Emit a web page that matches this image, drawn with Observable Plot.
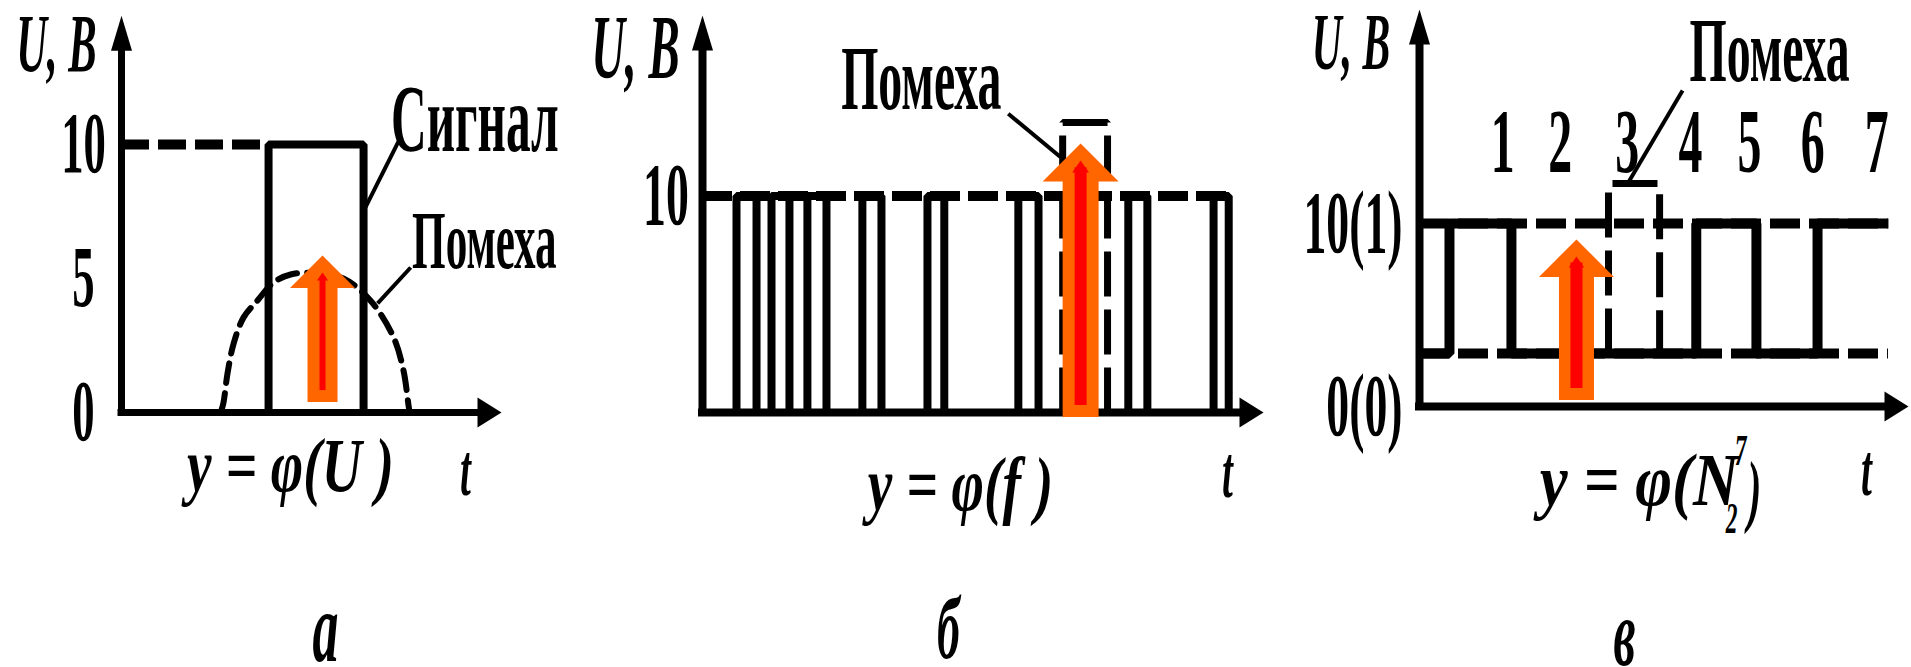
<!DOCTYPE html>
<html>
<head>
<meta charset="utf-8">
<script src="https://cdn.jsdelivr.net/npm/d3@7"></script>
<script src="https://cdn.jsdelivr.net/npm/@observablehq/plot@0.6"></script>
<style>
  html, body { margin: 0; padding: 0; background: #fff; }
  #figure { position: relative; width: 1911px; height: 667px; overflow: hidden; background: #fff; }
  .panel { position: absolute; top: 0; }
</style>
</head>
<body>
<div id="figure"></div>
<script>
// ---------- Panel а: amplitude signal y = φ(U) ----------
const ticksA = [0, 5, 10];
const pulseA = [38.7, 63.7];          // signal on / off time
const levelA = 10;                    // signal amplitude, V
const noiseTA = [26.1, 26.8, 27.9, 29.5, 32.1, 35.8, 40.0, 44.5, 51.0, 58.4, 65.5, 71.6, 74.2, 75.5, 75.8];
const noiseUA = [0, 0.34, 1.46, 2.57, 3.54, 4.18, 4.85, 5.15, 5.2, 5.0, 4.18, 2.8, 1.57, 0.3, 0];
const leadersA = [
  {t1: 73.4, u1: 10.26, t2: 64.2, u2: 7.65},
  {t1: 76.1, u1: 5.41, t2: 67.4, u2: 4.07}
];
const labelsA = [
  {text: "Сигнал", t: 93.0, u: 10.91},
  {text: "Помеха", t: 95.5, u: 6.40}
];
const markerA = {t: 52.9, base: 0.37, tip: 5.86};

// ---------- Panel б: frequency-coded pulses y = φ(f) ----------
const ticksB = [10];
const levelB = 10;
const pulsesB = [[6.06, 9.63], [12.3, 15.5], [18.7, 22.1], [28.5, 31.9], [40.1, 43.1], [56.3, 59.9], [75.9, 79.3], [91.1, 93.8]];
const noisePulseB = [64.2, 72.2];
const noiseLevelB = 13.4;
const leaderB = [{t1: 54.5, u1: 13.8, t2: 63.8, u2: 11.8}];
const labelB = [{text: "Помеха", t: 39.0, u: 15.4}];
const markerB = {t: 67.4, base: -0.23, tip: 12.42};

// ---------- Panel в: binary code y = φ(N₂⁷) ----------
const ticksV = [0, 10];
const tickLabelsV = ["0(0)", "10(1)"];
const levelsV = [2.9, 10];            // logical 0 and logical 1
const codeEdgesV = [0, 6.13, 18.8, 56.6, 68.9, 81.4, 95.9];
const codeBitsV = [0, 1, 0, 1, 0, 1];
const noiseBoxV = [38.65, 49.1];
const noiseTopV = 12.19;
const slotNamesV = ["1", "2", "3", "4", "5", "6", "7"];
const slotTV = [17.0, 28.8, 42.5, 55.4, 67.5, 80.4, 93.5];
const slotRowV = 14.4;
const leaderV = [{t1: 53.8, u1: 17.27, t2: 42.7, u2: 12.24}];
const labelV = [{text: "Помеха", t: 71.6, u: 19.4}];
const markerV = {t: 32.1, base: 0.33, tip: 9.13};

// ---------- helpers ----------
const FONT = "Liberation Serif";
const ORANGE = "#ff6600", RED = "#ff0000";
const STRETCH = {formula: 0.72, formulaN: 0.84};

// filled triangular heads, tip at the anchor point
function headUp(w) {
  return {draw(ctx, size) {
    const r = Math.sqrt(size / Math.PI);
    ctx.moveTo(0, 0); ctx.lineTo(w * r, r); ctx.lineTo(-w * r, r); ctx.closePath();
  }};
}
function headRight(w) {
  return {draw(ctx, size) {
    const r = Math.sqrt(size / Math.PI);
    ctx.moveTo(0, 0); ctx.lineTo(-r, w * r); ctx.lineTo(-r, -w * r); ctx.closePath();
  }};
}

function pulsePoints([s, e], low, high, k = 0) {
  return [{t: s, u: low, k}, {t: s, u: high, k}, {t: e, u: high, k}, {t: e, u: low, k}];
}

function axisMarks(xEnd, yEnd, sw) {
  return [
    Plot.ruleX([0], {y1: yEnd, y2: 0, strokeWidth: sw, insetTop: 20, insetBottom: -sw / 2}),
    Plot.ruleY([0], {x1: 0, x2: xEnd, strokeWidth: sw, insetRight: 12, insetLeft: -sw / 2}),
    Plot.dot([0], {x: 0, y: yEnd, r: 35, symbol: headUp(0.3), fill: "black"}),
    Plot.dot([0], {x: xEnd, y: 0, r: 24, symbol: headRight(0.62), fill: "black"})
  ];
}

function markerMarks(m, {shaft, redShaft, headR, redR}) {
  return [
    Plot.ruleX([m], {x: "t", y1: "tip", y2: "base", stroke: ORANGE, strokeWidth: shaft, insetTop: headR * 0.5}),
    Plot.dot([m], {x: "t", y: "tip", r: headR, symbol: headUp(1), fill: ORANGE}),
    Plot.ruleX([m], {x: "t", y1: "tip", y2: "base", stroke: RED, strokeWidth: redShaft, insetBottom: 12, insetTop: 17 + redR * 0.6}),
    Plot.dot([m], {x: "t", y: "tip", dy: 17, r: redR, symbol: headUp(0.7), fill: RED})
  ];
}

const bold = {fontWeight: "bold", fill: "black"};
const italic = {fontWeight: "bold", fontStyle: "italic", fill: "black"};
const centered = {textAnchor: "middle", lineAnchor: "middle"};

function base(opts) {
  return {
    height: 667,
    style: {fontFamily: FONT, background: "transparent", overflow: "visible"},
    ...opts
  };
}

// narrow the serif lettering around each text's anchor point
function condense(svg, k0) {
  for (const el of svg.querySelectorAll("text")) {
    const g = el.closest("[aria-description]");
    const k = (g && STRETCH[g.getAttribute("aria-description")]) || k0;
    let t = el.getAttribute("transform") || "";
    const x = el.getAttribute("x");
    if (x != null && isFinite(+x) && +x !== 0) {
      t += ` translate(${+x},0)`;
      el.setAttribute("x", 0);
    }
    el.setAttribute("transform", `${t} scale(${k},1)`);
  }
}

// ---------- panel а ----------
const noiseA = noiseTA.map((t, i) => ({t, u: noiseUA[i]}));
const plotA = Plot.plot(base({
  width: 580, marginLeft: 121, marginRight: 79, marginTop: 10, marginBottom: 255,
  x: {domain: [0, 100], axis: null, label: null},
  y: {domain: [0, 15], axis: null, label: null},
  marks: [
    Plot.ruleY([levelA], {x1: 0, x2: pulseA[0], strokeWidth: 10, strokeDasharray: "28,9"}),
    Plot.line(noiseA, {x: "t", y: "u", curve: "catmull-rom", strokeWidth: 6, strokeDasharray: "20,10"}),
    Plot.line(pulsePoints(pulseA, 0, levelA), {x: "t", y: "u", strokeWidth: 8, strokeLinejoin: "miter", strokeLinecap: "butt"}),
    ...axisMarks(100, 14.8, 7),
    Plot.axisY(ticksA, {anchor: "left", tickSize: 0, tickPadding: 38, textAnchor: "middle", fontSize: 86, fontWeight: "bold", label: null}),
    Plot.link(leadersA, {x1: "t1", y1: "u1", x2: "t2", y2: "u2", strokeWidth: 4}),
    Plot.text(labelsA.slice(0, 1), {x: "t", y: "u", text: "text", fontSize: 95, ...bold}),
    Plot.text(labelsA.slice(1), {x: "t", y: "u", text: "text", fontSize: 83, ...bold}),
    Plot.text(["U, В"], {frameAnchor: "top-left", dx: -65, dy: 34.5, fontSize: 82, ...centered, ...italic}),
    Plot.text(["t"], {frameAnchor: "bottom-right", dx: -36, dy: 58, fontSize: 75, ...centered, ...italic}),
    Plot.text(["y = φ(U )"], {frameAnchor: "bottom", dx: -21, dy: 54, fontSize: 77, ...centered, ...italic, ariaDescription: "formula"}),
    Plot.text(["а"], {frameAnchor: "bottom", dx: 14, dy: 216, fontSize: 100, ...centered, ...italic}),
    ...markerMarks(markerA, {shaft: 30, redShaft: 6, headR: 32.5, redR: 8})
  ]
}));

// ---------- panel б ----------
const pulseLinesB = pulsesB.flatMap((p, k) => pulsePoints(p, 0, levelB, k));
const plotB = Plot.plot(base({
  width: 700, marginLeft: 122, marginRight: 17, marginTop: 11.5, marginBottom: 255,
  x: {domain: [0, 100], axis: null, label: null},
  y: {domain: [0, 18.5], axis: null, label: null},
  marks: [
    Plot.ruleY([levelB], {x1: 0, x2: pulsesB[pulsesB.length - 1][1], strokeWidth: 10, strokeDasharray: "30,8"}),
    Plot.line(pulseLinesB, {x: "t", y: "u", z: "k", strokeWidth: 8, strokeLinejoin: "miter", strokeLinecap: "butt"}),
    Plot.line(pulsePoints(noisePulseB, 0, noiseLevelB), {x: "t", y: "u", strokeWidth: 7, strokeDasharray: "45,13", strokeLinejoin: "miter", strokeLinecap: "butt"}),
    ...axisMarks(100, 18.34, 8),
    Plot.axisY(ticksB, {anchor: "left", tickSize: 0, tickPadding: 36.5, textAnchor: "middle", fontSize: 88, fontWeight: "bold", label: null}),
    Plot.link(leaderB, {x1: "t1", y1: "u1", x2: "t2", y2: "u2", strokeWidth: 4}),
    Plot.text(labelB, {x: "t", y: "u", text: "text", fontSize: 92, ...bold}),
    Plot.text(["U, В"], {frameAnchor: "top-left", dx: -67, dy: 37.5, fontSize: 90, ...centered, ...italic}),
    Plot.text(["t"], {frameAnchor: "bottom-right", dx: -36, dy: 60, fontSize: 75, ...centered, ...italic}),
    Plot.text(["y = φ(f )"], {frameAnchor: "bottom", dx: -22.5, dy: 73, fontSize: 77, ...centered, ...italic, ariaDescription: "formula"}),
    Plot.text(["б"], {frameAnchor: "bottom", dx: -34.5, dy: 217, fontSize: 88, ...centered, ...italic}),
    ...markerMarks(markerB, {shaft: 36, redShaft: 12, headR: 38, redR: 12})
  ]
}));

// ---------- panel в ----------
const codeLineV = codeBitsV.flatMap((b, i) => [
  {t: codeEdgesV[i], u: levelsV[b]},
  {t: codeEdgesV[i + 1], u: levelsV[b]}
]);
const slotsV = slotNamesV.map((name, i) => ({name, t: slotTV[i], u: slotRowV}));
const noiseLineV = pulsePoints(noiseBoxV, levelsV[0], noiseTopV);
const plotV = Plot.plot(base({
  width: 631, marginLeft: 139, marginRight: 3, marginTop: 3.4, marginBottom: 261,
  x: {domain: [0, 100], axis: null, label: null},
  y: {domain: [0, 22], axis: null, label: null},
  marks: [
    Plot.ruleY(levelsV, {x1: 0, x2: codeEdgesV[codeEdgesV.length - 1], strokeWidth: 10, strokeDasharray: "30,9"}),
    Plot.line(codeLineV, {x: "t", y: "u", strokeWidth: 10, strokeLinejoin: "miter", strokeLinecap: "butt"}),
    Plot.line(noiseLineV, {x: "t", y: "u", strokeWidth: 7, strokeDasharray: "45,13", strokeLinejoin: "miter", strokeLinecap: "butt"}),
    ...axisMarks(100, 21.7, 8),
    Plot.axisY(ticksV, {anchor: "left", tickSize: 0, tickPadding: 17, textAnchor: "end", fontSize: 88, fontWeight: "bold", label: null,
      tickFormat: d => tickLabelsV[ticksV.indexOf(d)]}),
    Plot.text(slotsV, {x: "t", y: "u", text: "name", fontSize: 92, ...bold}),
    Plot.link(leaderV, {x1: "t1", y1: "u1", x2: "t2", y2: "u2", strokeWidth: 4}),
    Plot.text(labelV, {x: "t", y: "u", text: "text", fontSize: 92, ...bold}),
    Plot.text(["U, В"], {frameAnchor: "top-left", dx: -68.5, dy: 39, fontSize: 80, ...centered, ...italic}),
    Plot.text(["t"], {frameAnchor: "bottom-right", dx: -42, dy: 64, fontSize: 75, ...centered, ...italic}),
    Plot.text(["y = φ(N"], {frameAnchor: "bottom", textAnchor: "end", lineAnchor: "middle", dx: 74.5, dy: 74, fontSize: 75, ...italic, ariaDescription: "formulaN"}),
    Plot.text(["7"], {frameAnchor: "bottom", dx: 76.5, dy: 44, fontSize: 45, ...centered, ...italic}),
    Plot.text(["2"], {frameAnchor: "bottom", dx: 67.5, dy: 112, fontSize: 45, ...centered, ...italic}),
    Plot.text([")"], {frameAnchor: "bottom", dx: 90.5, dy: 85, fontSize: 80, ...centered, ...italic}),
    Plot.text(["в"], {frameAnchor: "bottom", dx: -39.5, dy: 228, fontSize: 95, ...centered, ...italic}),
    ...markerMarks(markerV, {shaft: 35, redShaft: 12, headR: 37.5, redR: 11})
  ]
}));

// ---------- layout ----------
const figure = document.getElementById("figure");
[[plotA, 0], [plotB, 580], [plotV, 1280]].forEach(([svg, left]) => {
  const holder = document.createElement("div");
  holder.className = "panel";
  holder.style.left = left + "px";
  holder.appendChild(svg);
  figure.appendChild(holder);
  condense(svg, 0.52);
});
</script>
</body>
</html>
